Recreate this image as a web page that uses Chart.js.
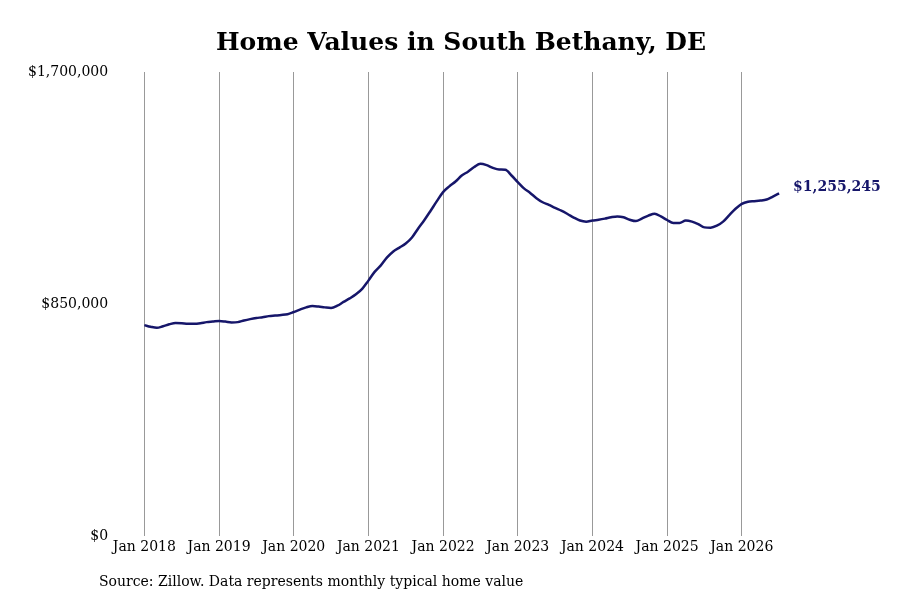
<!DOCTYPE html>
<html>
<head>
<meta charset="utf-8">
<title>Home Values in South Bethany, DE</title>
<script src="https://cdn.jsdelivr.net/npm/chart.js@4"></script>
<style>
  html, body { margin: 0; padding: 0; background: #fff; }
  #wrap { width: 900px; height: 600px; position: relative; }
</style>
</head>
<body>
<div id="wrap"><canvas id="chart" width="900" height="600"></canvas></div>
<script>
// monthly typical home value, Jan 2018 .. Jul 2026
const startYear = 2018;
const homeValues = [
  // 2018
  773000, 767000, 763000, 769000, 776000, 781000, 780000, 778000, 778000, 780000, 784000, 786000,
  // 2019
  788000, 786000, 783000, 784000, 790000, 795000, 799000, 802000, 806000, 808000, 810000, 813000,
  // 2020
  821000, 830000, 838000, 843000, 841000, 838000, 836000, 844000, 858000, 871000, 886000, 906000,
  // 2021
  936000, 968000, 992000, 1021000, 1043000, 1057000, 1072000, 1094000, 1127000, 1158000, 1192000, 1227000,
  // 2022
  1260000, 1281000, 1299000, 1321000, 1335000, 1352000, 1364000, 1359000, 1349000, 1343000, 1342000, 1321000,
  // 2023
  1297000, 1274000, 1257000, 1238000, 1223000, 1213000, 1202000, 1192000, 1180000, 1167000, 1156000, 1152000,
  // 2024
  1156000, 1159000, 1163000, 1168000, 1171000, 1168000, 1159000, 1154000, 1164000, 1174000, 1181000, 1171000,
  // 2025
  1158000, 1147000, 1147000, 1156000, 1152000, 1143000, 1131000, 1130000, 1137000, 1152000, 1176000, 1199000,
  // 2026
  1217000, 1225000, 1227000, 1229000, 1233000, 1244000, 1255245
];
const xTickLabels = ['Jan 2018', 'Jan 2019', 'Jan 2020', 'Jan 2021', 'Jan 2022',
                     'Jan 2023', 'Jan 2024', 'Jan 2025', 'Jan 2026'];
const yTickValues = [0, 850000, 1700000];
const titleText = 'Home Values in South Bethany, DE';
const endLabel = '$1,255,245';
const sourceNote = 'Source: Zillow. Data represents monthly typical home value';

const navy = '#16166a';
const fontFamily = '"DejaVu Serif", serif';

const points = homeValues.map((v, i) => ({ x: i, y: v }));

const money = v => '$' + Math.round(v).toLocaleString('en-US');

// title, label at the end of the line, source line at the bottom
const extras = {
  id: 'extras',
  afterDraw(chart) {
    const { ctx, scales } = chart;
    ctx.save();
    ctx.fillStyle = '#000';
    ctx.font = 'bold 25px ' + fontFamily;
    ctx.textAlign = 'center';
    ctx.textBaseline = 'middle';
    ctx.fillText(titleText, 461, 43);

    const last = points[points.length - 1];
    const px = scales.x.getPixelForValue(last.x);
    const py = scales.y.getPixelForValue(last.y);
    ctx.fillStyle = navy;
    ctx.font = 'bold 14px ' + fontFamily;
    ctx.textAlign = 'left';
    ctx.fillText(endLabel, px + 14, py - 6);

    ctx.fillStyle = '#000';
    ctx.font = '14px ' + fontFamily;
    ctx.fillText(sourceNote, 99, 582);
    ctx.restore();
  }
};

new Chart(document.getElementById('chart'), {
  type: 'line',
  data: {
    datasets: [{
      data: points,
      borderColor: navy,
      borderWidth: 2.5,
      pointRadius: 0,
      fill: false,
      cubicInterpolationMode: 'monotone'
    }]
  },
  options: {
    responsive: false,
    animation: false,
    layout: { padding: { left: 20, right: 110, top: 72, bottom: 41 } },
    plugins: {
      legend: { display: false },
      tooltip: { enabled: false },
      title: { display: false }
    },
    scales: {
      x: {
        type: 'linear',
        min: -3.25,
        max: 103.75,
        afterBuildTicks: s => { s.ticks = xTickLabels.map((_, i) => ({ value: i * 12 })); },
        grid: { display: true, color: '#999', lineWidth: 1, drawTicks: false },
        border: { display: false },
        ticks: {
          color: '#000',
          padding: 3,
          maxRotation: 0,
          autoSkip: false,
          font: { family: fontFamily, size: 14 },
          callback: v => xTickLabels[Math.round(v / 12)]
        }
      },
      y: {
        min: 0,
        max: 1700000,
        afterBuildTicks: s => { s.ticks = yTickValues.map(v => ({ value: v })); },
        grid: { display: false },
        border: { display: false },
        ticks: {
          color: '#000',
          padding: 8,
          font: { family: fontFamily, size: 14 },
          callback: v => money(v)
        }
      }
    }
  },
  plugins: [extras]
});
</script>
</body>
</html>
